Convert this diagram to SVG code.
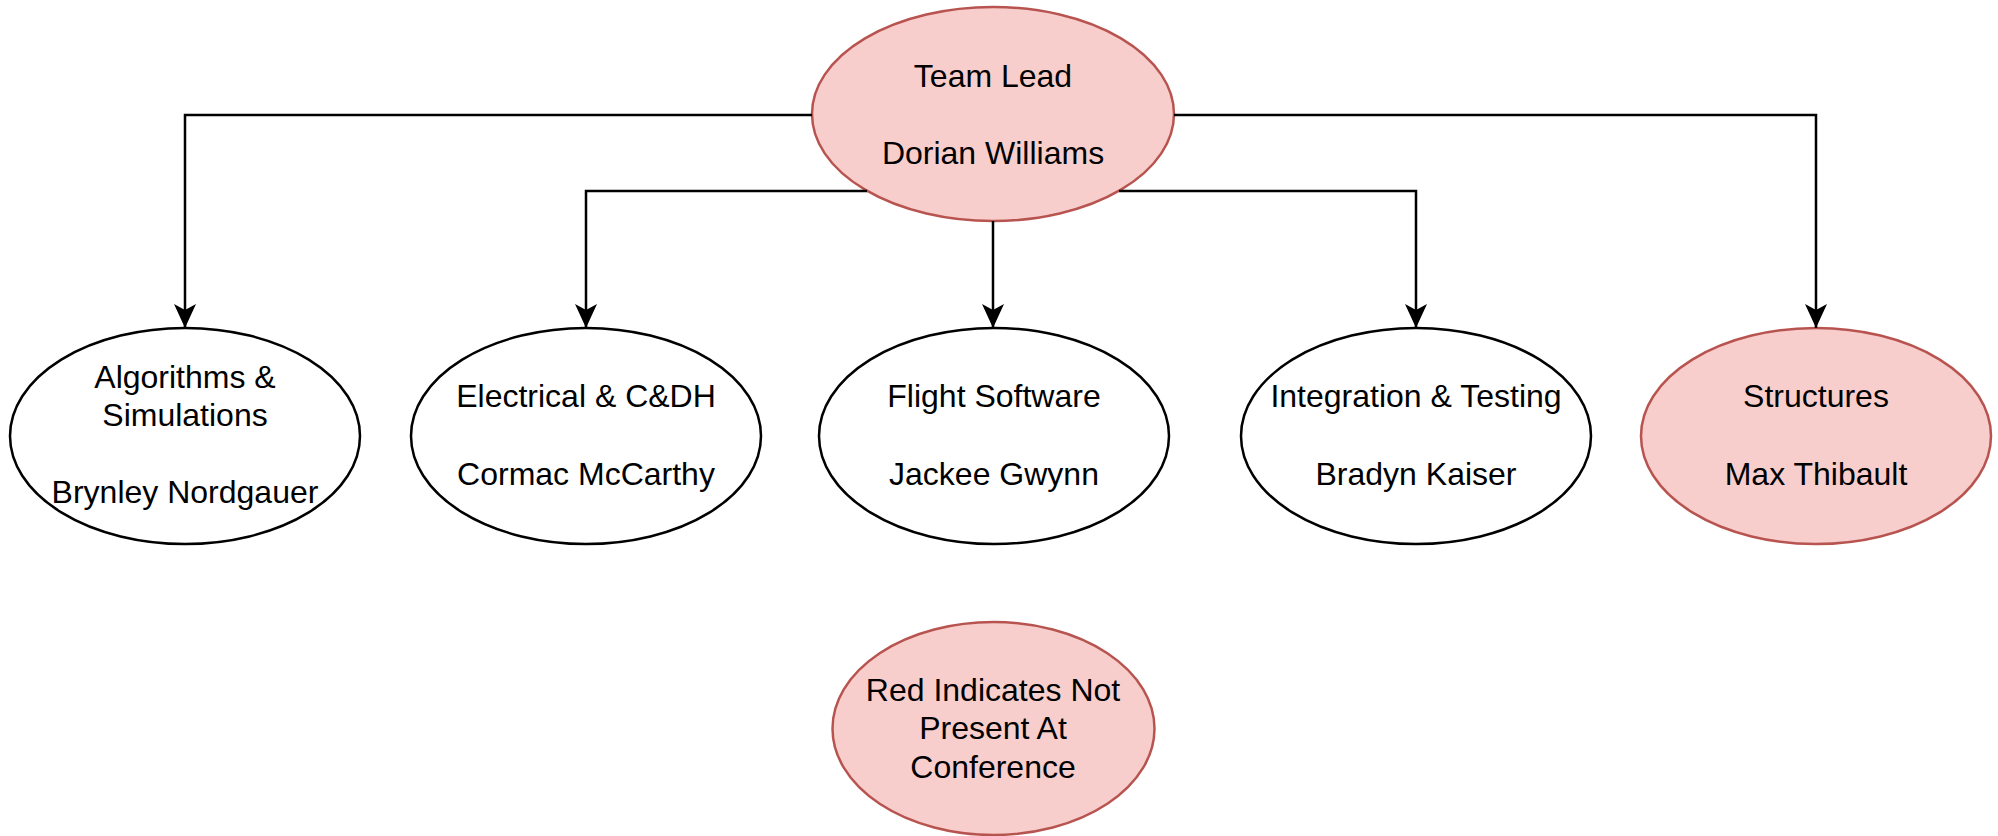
<svg xmlns="http://www.w3.org/2000/svg" width="1998" height="836" viewBox="0 0 1998 836">
<style>
.n{fill:#ffffff;stroke:#000000;stroke-width:2.5}
.r{fill:#f8cecc;stroke:#b85450;stroke-width:2.5}
.t{font-family:"Liberation Sans",Arial,sans-serif;font-size:32px;fill:#000000;text-anchor:middle}
.c{fill:none;stroke:#000000;stroke-width:2.5}
</style>
<defs>
<marker id="arr" markerUnits="userSpaceOnUse" viewBox="0 0 24 24" markerWidth="24" markerHeight="24" refX="24" refY="12" orient="auto">
<path d="M0,1 L24,12 L0,23 L6,12 Z" fill="#000000"/>
</marker>
</defs>
<rect width="1998" height="836" fill="#ffffff"/>
<g id="lead">
<ellipse class="r" cx="993" cy="114" rx="181" ry="107"/>
<text class="t" x="993" y="87">Team Lead</text>
<text class="t" x="993" y="164">Dorian Williams</text>
</g>
<g id="algorithms">
<ellipse class="n" cx="185" cy="436" rx="175" ry="108"/>
<text class="t" x="185" y="388">Algorithms &amp;</text>
<text class="t" x="185" y="426">Simulations</text>
<text class="t" x="185" y="503">Brynley Nordgauer</text>
</g>
<g id="electrical">
<ellipse class="n" cx="586" cy="436" rx="175" ry="108"/>
<text class="t" x="586" y="407">Electrical &amp; C&amp;DH</text>
<text class="t" x="586" y="485">Cormac McCarthy</text>
</g>
<g id="flight">
<ellipse class="n" cx="994" cy="436" rx="175" ry="108"/>
<text class="t" x="994" y="407">Flight Software</text>
<text class="t" x="994" y="485">Jackee Gwynn</text>
</g>
<g id="integration">
<ellipse class="n" cx="1416" cy="436" rx="175" ry="108"/>
<text class="t" x="1416" y="407">Integration &amp; Testing</text>
<text class="t" x="1416" y="485">Bradyn Kaiser</text>
</g>
<g id="structures">
<ellipse class="r" cx="1816" cy="436" rx="175" ry="108"/>
<text class="t" x="1816" y="407">Structures</text>
<text class="t" x="1816" y="485">Max Thibault</text>
</g>
<g id="legend">
<ellipse class="r" cx="993.5" cy="728.5" rx="161" ry="106.5"/>
<text class="t" x="993" y="701">Red Indicates Not</text>
<text class="t" x="993" y="739">Present At</text>
<text class="t" x="993" y="778">Conference</text>
</g>
<g id="connectors">
<path class="c" d="M812,115 H185 V328" marker-end="url(#arr)"/>
<path class="c" d="M1174,115 H1816 V328" marker-end="url(#arr)"/>
<path class="c" d="M867,191 H586 V328" marker-end="url(#arr)"/>
<path class="c" d="M993,221 V328" marker-end="url(#arr)"/>
<path class="c" d="M1119,191 H1416 V328" marker-end="url(#arr)"/>
</g>
</svg>
